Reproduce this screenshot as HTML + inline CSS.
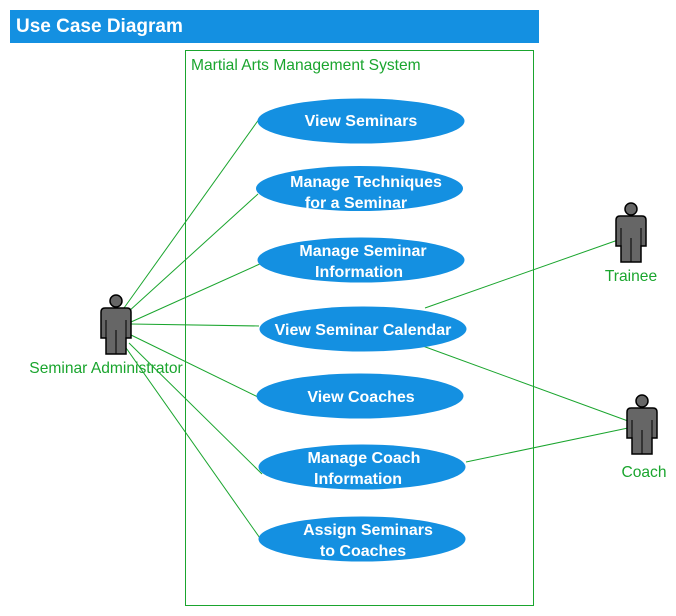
<!DOCTYPE html>
<html><head><meta charset="utf-8"><style>
html,body{margin:0;padding:0;background:#fff;}
svg{display:block;font-family:"Liberation Sans",Arial,sans-serif;}
</style></head><body>
<svg width="676" height="616" viewBox="0 0 676 616" xmlns="http://www.w3.org/2000/svg">
<defs>
<g id="actor">
<circle cx="0" cy="-7" r="6" fill="#666" stroke="#000" stroke-width="1.5"/>
<path d="M-15,4 Q-15,0 -11,0 L11,0 Q15,0 15,4 L15,30 L10,30 L10,46 L-10,46 L-10,30 L-15,30 Z" fill="#666" stroke="#000" stroke-width="1.5"/>
<path d="M-10,12 L-10,30 M10,12 L10,30 M0,22 L0,46" stroke="#000" stroke-width="1" fill="none"/>
</g>
</defs>
<rect x="10" y="10" width="529" height="33" fill="#1490e1"/>
<text x="16" y="32" fill="#fff" font-size="19" font-weight="bold">Use Case Diagram</text>
<rect x="185.5" y="50.5" width="348" height="555" fill="none" stroke="#1aa52e" stroke-width="1" shape-rendering="crispEdges"/>
<text x="191" y="70" fill="#1aa52e" font-size="15.6">Martial Arts Management System</text>
<g stroke="#1aa52e" stroke-width="1" fill="none">
<line x1="124" y1="308" x2="262" y2="115"/>
<line x1="128" y1="312" x2="258" y2="194"/>
<line x1="131" y1="322" x2="262" y2="263"/>
<line x1="131" y1="324" x2="259" y2="326"/>
<line x1="131" y1="335" x2="260" y2="398"/>
<line x1="129" y1="343" x2="262" y2="474"/>
<line x1="124" y1="345" x2="262" y2="541"/>
<line x1="425" y1="308" x2="618" y2="240"/>
<line x1="420" y1="345" x2="628" y2="421"/>
<line x1="466" y1="462" x2="628" y2="428"/>
</g>
<g fill="#1490e1">
<ellipse cx="361" cy="121" rx="103.5" ry="22.5"/>
<ellipse cx="359.5" cy="188.5" rx="103.5" ry="22.5"/>
<ellipse cx="361" cy="260" rx="103.5" ry="22.5"/>
<ellipse cx="363" cy="329" rx="103.5" ry="22.5"/>
<ellipse cx="360" cy="396" rx="103.5" ry="22.5"/>
<ellipse cx="362" cy="467" rx="103.5" ry="22.5"/>
<ellipse cx="362" cy="539" rx="103.5" ry="22.5"/>
</g>
<g fill="#fff" font-size="16" font-weight="bold" text-anchor="middle">
<text x="361" y="126">View Seminars</text>
<text x="366" y="187">Manage Techniques</text>
<text x="356" y="208">for a Seminar</text>
<text x="363" y="256">Manage Seminar</text>
<text x="359" y="277">Information</text>
<text x="363" y="335">View Seminar Calendar</text>
<text x="361" y="402">View Coaches</text>
<text x="364" y="463">Manage Coach</text>
<text x="358" y="484">Information</text>
<text x="368" y="535">Assign Seminars</text>
<text x="363" y="556">to Coaches</text>
</g>
<use href="#actor" x="116" y="308"/>
<use href="#actor" x="631" y="216"/>
<use href="#actor" x="642" y="408"/>
<g fill="#1aa52e" font-size="15.6" text-anchor="middle">
<text x="106" y="373">Seminar Administrator</text>
<text x="631" y="281">Trainee</text>
<text x="644" y="477">Coach</text>
</g>
</svg>
</body></html>
